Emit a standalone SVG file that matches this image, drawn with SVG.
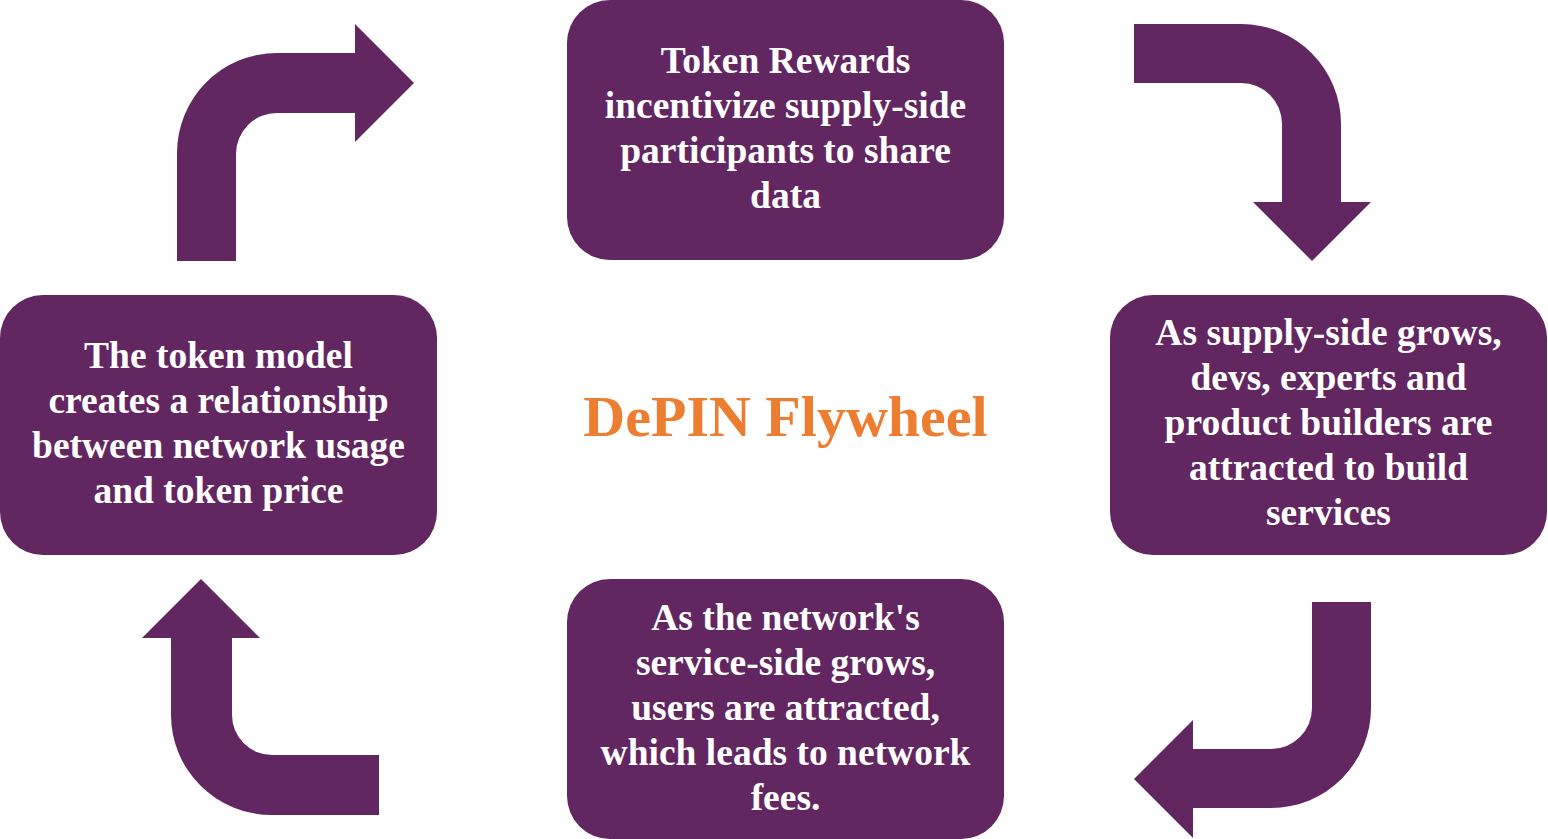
<svg xmlns="http://www.w3.org/2000/svg" width="1548" height="839" viewBox="0 0 1548 839">
<style>
.box{fill:#622661}
.arrow{fill:#622661}
.t{font-family:"Liberation Serif","Times New Roman",serif;font-weight:bold;font-size:37.5px;fill:#ffffff;text-anchor:middle}
.title{font-family:"Liberation Serif","Times New Roman",serif;font-weight:bold;font-size:58px;fill:#ED7D31;text-anchor:middle}
</style>
<rect width="1548" height="839" fill="#ffffff"/>
<g id="connectors">
<path class="arrow" d="M177,261 L177,153 A100,100 0 0 1 277,53 L355,53 L355,24 L414,83 L355,142 L355,113 L277,113 A41,41 0 0 0 236,154 L236,261 Z"/>
<path class="arrow" d="M1134,24 L1241,24 A100,100 0 0 1 1341,124 L1341,202 L1371,202 L1312,261 L1253,202 L1282,202 L1282,124 A41,41 0 0 0 1241,83 L1134,83 Z"/>
<path class="arrow" d="M1312,602 L1371,602 L1371,708 A100,100 0 0 1 1271,808 L1193,808 L1193,838 L1134,779 L1193,720 L1193,749 L1271,749 A41,41 0 0 0 1312,708 Z"/>
<path class="arrow" d="M171,638 L142,638 L201,579 L260,638 L232,638 L232,715 A40,40 0 0 0 272,755 L379,755 L379,815 L272,815 A101,100 0 0 1 171,715 Z"/>
</g>
<g id="node-top">
<rect class="box" x="567" y="0" width="437" height="260" rx="43" ry="43"/>
<text class="t" x="785.5" y="73">Token Rewards</text>
<text class="t" x="785.5" y="118">incentivize supply-side</text>
<text class="t" x="785.5" y="163">participants to share</text>
<text class="t" x="785.5" y="208">data</text>
</g>
<g id="node-right">
<rect class="box" x="1110" y="295" width="437" height="260" rx="43" ry="43"/>
<text class="t" x="1328.5" y="345">As supply-side grows,</text>
<text class="t" x="1328.5" y="390">devs, experts and</text>
<text class="t" x="1328.5" y="435">product builders are</text>
<text class="t" x="1328.5" y="480">attracted to build</text>
<text class="t" x="1328.5" y="525">services</text>
</g>
<g id="node-bottom">
<rect class="box" x="567" y="579" width="437" height="260" rx="43" ry="43"/>
<text class="t" x="785.5" y="630">As the network's</text>
<text class="t" x="785.5" y="675">service-side grows,</text>
<text class="t" x="785.5" y="720">users are attracted,</text>
<text class="t" x="785.5" y="765">which leads to network</text>
<text class="t" x="785.5" y="810">fees.</text>
</g>
<g id="node-left">
<rect class="box" x="0" y="295" width="437" height="260" rx="43" ry="43"/>
<text class="t" x="218.5" y="368">The token model</text>
<text class="t" x="218.5" y="413">creates a relationship</text>
<text class="t" x="218.5" y="458">between network usage</text>
<text class="t" x="218.5" y="503">and token price</text>
</g>
<g id="title">
<text class="title" x="785.5" y="436">DePIN Flywheel</text>
</g>
</svg>
